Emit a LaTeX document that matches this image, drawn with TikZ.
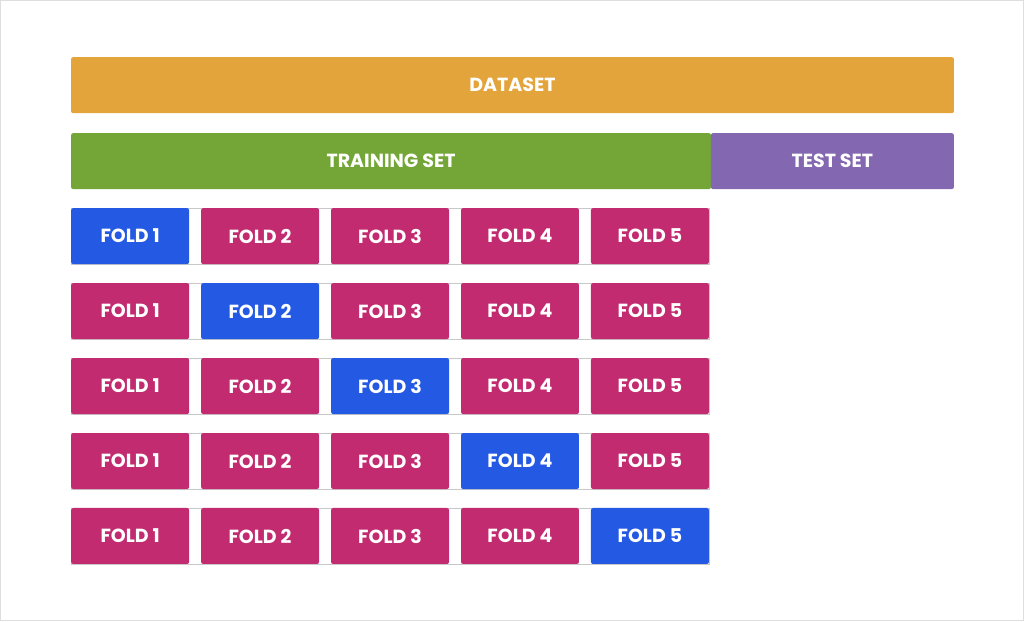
\documentclass[tikz,border=0pt]{standalone}
\usepackage{fontspec}
\setmainfont{Poppins}
\definecolor{dataorange}{HTML}{E3A43B}
\definecolor{traingreen}{HTML}{74A637}
\definecolor{testpurple}{HTML}{8368B1}
\definecolor{foldpink}{HTML}{C22B6F}
\definecolor{foldblue}{HTML}{2459E3}
\definecolor{edgegrey}{HTML}{C8C8C8}
\tikzset{
  block/.style={rectangle, rounded corners=1.5pt, inner sep=0, text=white,
    font=\fontsize{13.5}{15}\selectfont\bfseries, minimum height=1.4cm},
  fold/.style={block, fill=foldpink, minimum width=2.95cm},
  testfold/.style={fold, fill=foldblue},
  strip/.style={draw=edgegrey, line width=0.6pt}
}

\begin{document}
\begin{tikzpicture}[x=0.025cm, y=-0.025cm]
\draw[draw=black!13, line width=1pt, fill=white] (0.5, 0.5) rectangle (1023.5, 620.5);

\node[block, fill=dataorange, minimum width=22.075cm] (dataset) at (512.5, 85) {DATASET};
\node[block, fill=traingreen, minimum width=16cm] (training) at (391, 161) {TRAINING SET};
\node[block, fill=testpurple, minimum width=6.075cm] (test) at (832.5, 161) {TEST SET};

\draw[strip] (71, 208) rectangle (709, 264);
\draw[strip] (71, 283) rectangle (709, 339);
\draw[strip] (71, 358) rectangle (709, 414);
\draw[strip] (71, 433) rectangle (709, 489);
\draw[strip] (71, 508) rectangle (709, 564);

\node[testfold] (r1f1) at (130, 236) {FOLD 1};
\node[fold] (r1f2) at (260, 236) {FOLD 2};
\node[fold] (r1f3) at (390, 236) {FOLD 3};
\node[fold] (r1f4) at (520, 236) {FOLD 4};
\node[fold] (r1f5) at (650, 236) {FOLD 5};

\node[fold] (r2f1) at (130, 311) {FOLD 1};
\node[testfold] (r2f2) at (260, 311) {FOLD 2};
\node[fold] (r2f3) at (390, 311) {FOLD 3};
\node[fold] (r2f4) at (520, 311) {FOLD 4};
\node[fold] (r2f5) at (650, 311) {FOLD 5};

\node[fold] (r3f1) at (130, 386) {FOLD 1};
\node[fold] (r3f2) at (260, 386) {FOLD 2};
\node[testfold] (r3f3) at (390, 386) {FOLD 3};
\node[fold] (r3f4) at (520, 386) {FOLD 4};
\node[fold] (r3f5) at (650, 386) {FOLD 5};

\node[fold] (r4f1) at (130, 461) {FOLD 1};
\node[fold] (r4f2) at (260, 461) {FOLD 2};
\node[fold] (r4f3) at (390, 461) {FOLD 3};
\node[testfold] (r4f4) at (520, 461) {FOLD 4};
\node[fold] (r4f5) at (650, 461) {FOLD 5};

\node[fold] (r5f1) at (130, 536) {FOLD 1};
\node[fold] (r5f2) at (260, 536) {FOLD 2};
\node[fold] (r5f3) at (390, 536) {FOLD 3};
\node[fold] (r5f4) at (520, 536) {FOLD 4};
\node[testfold] (r5f5) at (650, 536) {FOLD 5};

\end{tikzpicture}
\end{document}
